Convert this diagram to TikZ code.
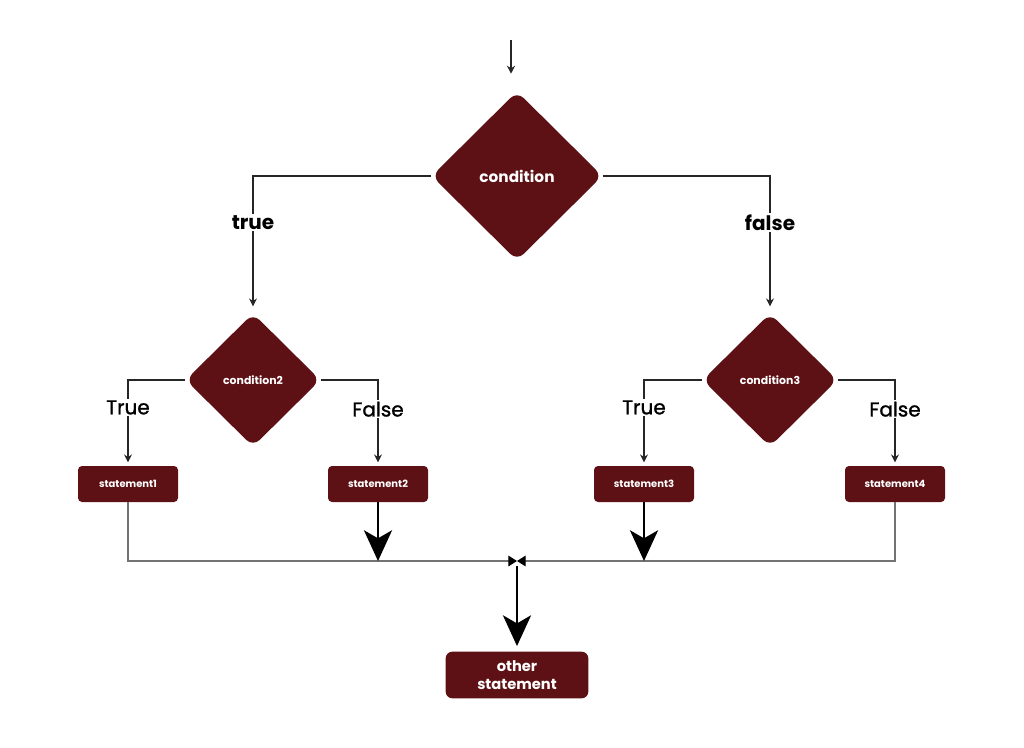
\documentclass[tikz,border=0pt]{standalone}
\usepackage{fontspec}
\setmainfont{Poppins}
\newfontfamily\medfont{Poppins}[FakeBold=1.2]
\usepackage{xcolor}
\usetikzlibrary{shapes.geometric,arrows.meta,calc}
\definecolor{darkred}{RGB}{93,17,21}

\tikzset{
  decision/.style={diamond, aspect=1, fill=darkred, text=white, inner sep=0pt, rounded corners=7pt},
  stmt/.style={rectangle, fill=darkred, text=white, rounded corners=3pt, minimum width=75pt, minimum height=27pt, inner sep=1pt, font=\bfseries\fontsize{7.5}{9}\selectfont},
  flow/.style={draw=black!85, line width=0.8pt},
  smallarrow/.style={flow, -{Stealth[length=6pt,width=6pt]}},
  merge/.style={draw=black!55, line width=0.9pt, -{Triangle[length=6.5pt,width=8pt,color=black]}},
  bigarrow/.style={draw=black, line width=2.2pt, -{Stealth[length=23pt,width=21pt,inset=6pt]}},
  biglabel/.style={fill=white, inner sep=1pt, font=\bfseries\fontsize{15}{17}\selectfont},
  smalllabel/.style={fill=white, inner sep=1pt, font=\medfont\fontsize{15}{17}\selectfont}
}

\begin{document}
\begin{tikzpicture}[x=0.75pt,y=-0.75pt]
  \useasboundingbox (0,0) rectangle (1024,748);

  % Entry point and merge point
  \coordinate (start) at (511,40);
  \coordinate (join) at (517,561);

  % Decisions
  \node[decision, minimum width=128pt, minimum height=127pt, font=\bfseries\fontsize{11.5}{13}\selectfont] (cond) at (517,176) {condition};
  \node[decision, minimum width=101pt, minimum height=100pt, font=\bfseries\fontsize{8.2}{10}\selectfont] (cond2) at (253,380) {condition2};
  \node[decision, minimum width=101pt, minimum height=100pt, font=\bfseries\fontsize{8.2}{10}\selectfont] (cond3) at (770,380) {condition3};

  % Statements
  \node[stmt] (s1) at (128,484) {statement1};
  \node[stmt] (s2) at (378,484) {statement2};
  \node[stmt] (s3) at (644,484) {statement3};
  \node[stmt] (s4) at (895,484) {statement4};
  \node[stmt, minimum width=107pt, minimum height=35pt, rounded corners=5pt, align=center,
        font=\bfseries\fontsize{11}{13}\selectfont] (other) at (517,675) {other\\statement};

  % Entry arrow
  \draw[smallarrow] (start) -- (start |- cond.north) [shorten >=13pt];

  % First decision
  \draw[smallarrow, shorten >=5pt] (cond.west) -| (cond2.north) node[biglabel, pos=0.67] {true};
  \draw[smallarrow, shorten >=5pt] (cond.east) -| (cond3.north) node[biglabel, pos=0.67] {false};

  % Second level decisions
  \draw[smallarrow, shorten >=2.5pt] (cond2.west) -| (s1.north) node[smalllabel, pos=0.66] {True};
  \draw[smallarrow, shorten >=2.5pt] (cond2.east) -| (s2.north) node[smalllabel, pos=0.67] {False};
  \draw[smallarrow, shorten >=2.5pt] (cond3.west) -| (s3.north) node[smalllabel, pos=0.66] {True};
  \draw[smallarrow, shorten >=2.5pt] (cond3.east) -| (s4.north) node[smalllabel, pos=0.67] {False};

  % Merging lines
  \draw[merge] (s1.south) |- (join);
  \draw[merge] (s4.south) |- (join);
  \draw[bigarrow] (s2.south) -- (s2.south |- join);
  \draw[bigarrow] (s3.south) -- (s3.south |- join);
  \draw[bigarrow, shorten <=4pt, shorten >=4pt] (join) -- (other.north);

\end{tikzpicture}
\end{document}
